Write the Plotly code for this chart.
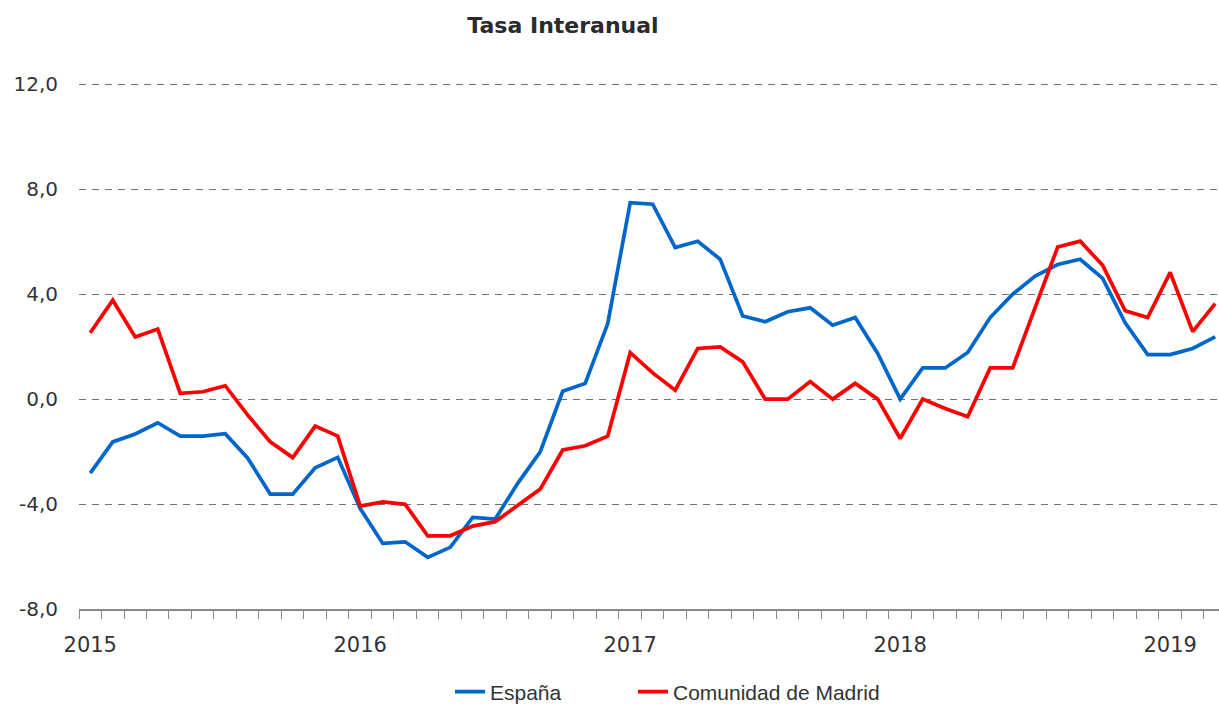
import plotly.graph_objects as go

months = list(range(51))  # Jan 2015 .. Mar 2019
year_labels = ["2015", "2016", "2017", "2018", "2019"]
year_pos = [0, 12, 24, 36, 48]
y_ticks = [-8, -4, 0, 4, 8, 12]
y_tick_labels = ["-8,0", "-4,0", "0,0", "4,0", "8,0", "12,0"]

espana = [-2.82, -1.63, -1.33, -0.90, -1.41, -1.41, -1.32, -2.25, -3.62, -3.62,
          -2.62, -2.22, -4.17, -5.50, -5.44, -6.03, -5.65, -4.51, -4.57, -3.21,
          -2.01, 0.30, 0.60, 2.88, 7.49, 7.43, 5.78, 6.02, 5.33, 3.17,
          2.95, 3.33, 3.48, 2.82, 3.11, 1.74, 0.0, 1.19, 1.19, 1.78,
          3.11, 4.00, 4.69, 5.13, 5.33, 4.60, 2.91, 1.70, 1.70, 1.93, 2.37]

madrid = [2.53, 3.77, 2.37, 2.67, 0.22, 0.28, 0.51, -0.61, -1.63, -2.23,
          -1.03, -1.41, -4.08, -3.92, -4.01, -5.21, -5.21, -4.84, -4.67, -4.04,
          -3.43, -1.94, -1.78, -1.41, 1.77, 1.00, 0.34, 1.93, 1.99, 1.42,
          0.0, 0.0, 0.67, 0.0, 0.60, 0.0, -1.50, 0.0, -0.36, -0.67,
          1.19, 1.19, 3.45, 5.80, 6.02, 5.10, 3.37, 3.11, 4.83, 2.57, 3.64]

fig = go.Figure()
fig.add_trace(go.Scatter(x=months, y=espana, mode="lines", name="España",
                         line=dict(color="#0066CC", width=3.7), legend="legend"))
fig.add_trace(go.Scatter(x=months, y=madrid, mode="lines", name="Comunidad de Madrid",
                         line=dict(color="#FF0000", width=3.7), legend="legend2"))

legend_font = dict(size=21, family="Liberation Sans, Arial, sans-serif", color="#333333")
legend_y = -(692 - 609) / 526

fig.update_layout(
    width=1219, height=704,
    margin=dict(l=79, r=0, t=83, b=95, autoexpand=False),
    paper_bgcolor="white", plot_bgcolor="white",
    font=dict(family="DejaVu Sans, sans-serif", color="#333333"),
    title=dict(text="<b>Tasa Interanual</b>", x=563 / 1219, xref="container",
               y=1 - 25 / 704, yref="container", xanchor="center", yanchor="middle",
               font=dict(size=22, color="#2a2a2a", family="DejaVu Sans, sans-serif")),
    showlegend=True,
    legend=dict(orientation="h", x=(455 - 79 - 5) / 1140, xanchor="left",
                y=legend_y, yanchor="middle", font=legend_font,
                bgcolor="rgba(0,0,0,0)"),
    legend2=dict(orientation="h", x=(638 - 79 - 5) / 1140, xanchor="left",
                 y=legend_y, yanchor="middle", font=legend_font,
                 bgcolor="rgba(0,0,0,0)"),
)

fig.update_xaxes(
    range=[-0.5, 50.17], tickmode="array", tickvals=year_pos, ticktext=year_labels,
    ticks="outside", ticklen=16, tickcolor="rgba(0,0,0,0)",
    tickfont=dict(size=21, family="DejaVu Sans, sans-serif", color="#333333"),
    showgrid=False, zeroline=False, showline=True, linecolor="#898989", linewidth=1.5,
    minor=dict(ticks="outside", tick0=-0.5, dtick=1, ticklen=8, tickcolor="#898989",
               tickwidth=1, showgrid=False),
)
fig.update_yaxes(
    range=[-8, 12.05], tickmode="array", tickvals=y_ticks, ticktext=y_tick_labels,
    tickfont=dict(size=20, family="DejaVu Sans, sans-serif", color="#333333"),
    showgrid=True, gridcolor="#707070", griddash="7px,6px", gridwidth=1.2,
    zeroline=False, showline=False, ticks="", ticklabelstandoff=20,
)

fig.write_html("out.html", config={"displayModeBar": False},
               post_script="document.body.style.margin='0px';")
